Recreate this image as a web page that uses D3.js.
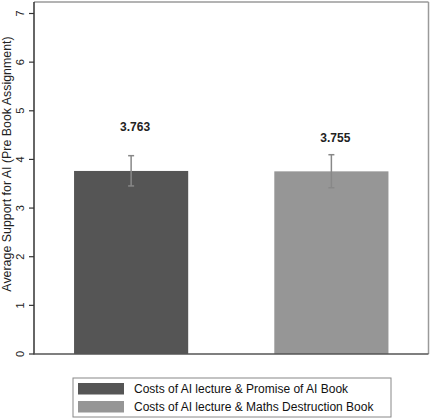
<!DOCTYPE html>
<html>
<head>
<meta charset="utf-8">
<script src="https://cdn.jsdelivr.net/npm/d3@7"></script>
<style>
  html, body { margin: 0; padding: 0; background: #fff; }
  svg { display: block; font-family: "Liberation Sans", Arial, sans-serif; }
</style>
</head>
<body>
<svg id="chart" width="431" height="418"></svg>
<script>
const categories = ["Costs of AI lecture & Promise of AI Book", "Costs of AI lecture & Maths Destruction Book"];
const means = [3.763, 3.755];
const ciLow = [3.455, 3.418];
const ciHigh = [4.077, 4.097];
const labels = ["3.763", "3.755"];
const yTicks = [0, 1, 2, 3, 4, 5, 6, 7];
const colors = ["#555555", "#969696"];

(function () {
const svg = d3.select("#chart");
const pLeft = 34, pRight = 428.5, pTop = 2, pBottom = 354;

const x = d3.scaleBand().domain(categories).range([pLeft, pRight]).paddingInner(0.43).paddingOuter(0.2);
const y = d3.scaleLinear().domain([0, 7]).range([pBottom, 13.5]);

// frame (top and right, light)
svg.append("line").attr("x1", pLeft).attr("x2", pRight).attr("y1", pTop).attr("y2", pTop)
  .attr("stroke", "#9a9a9a").attr("stroke-width", 1.5);
svg.append("line").attr("x1", pRight).attr("x2", pRight).attr("y1", pTop).attr("y2", pBottom)
  .attr("stroke", "#9a9a9a").attr("stroke-width", 1.5);

// bars
svg.selectAll("rect.bar").data(categories).enter().append("rect")
  .attr("class", "bar")
  .attr("x", d => x(d))
  .attr("width", x.bandwidth())
  .attr("y", (d, i) => y(means[i]))
  .attr("height", (d, i) => y(0) - y(means[i]))
  .attr("fill", (d, i) => colors[i]);

// error bars
const eb = svg.selectAll("g.eb").data(categories).enter().append("g").attr("class", "eb");
eb.append("line")
  .attr("x1", d => x(d) + x.bandwidth() / 2).attr("x2", d => x(d) + x.bandwidth() / 2)
  .attr("y1", (d, i) => y(ciLow[i])).attr("y2", (d, i) => y(ciHigh[i]))
  .attr("stroke", "#888888").attr("stroke-width", 1.5);
eb.append("line")
  .attr("x1", d => x(d) + x.bandwidth() / 2 - 3).attr("x2", d => x(d) + x.bandwidth() / 2 + 3)
  .attr("y1", (d, i) => y(ciHigh[i])).attr("y2", (d, i) => y(ciHigh[i]))
  .attr("stroke", "#888888").attr("stroke-width", 1.5);
eb.append("line")
  .attr("x1", d => x(d) + x.bandwidth() / 2 - 3).attr("x2", d => x(d) + x.bandwidth() / 2 + 3)
  .attr("y1", (d, i) => y(ciLow[i])).attr("y2", (d, i) => y(ciLow[i]))
  .attr("stroke", "#888888").attr("stroke-width", 1.5);

// value labels
const labelOffsets = [29, 17];
svg.selectAll("text.val").data(categories).enter().append("text")
  .attr("class", "val")
  .attr("x", d => x(d) + x.bandwidth() / 2 + 4)
  .attr("y", (d, i) => y(ciHigh[i]) - labelOffsets[i])
  .attr("dy", "0.35em")
  .attr("text-anchor", "middle")
  .attr("font-size", 12).attr("font-weight", "bold").attr("fill", "#222")
  .text((d, i) => labels[i]);

// y axis
svg.append("line").attr("x1", pLeft).attr("x2", pLeft).attr("y1", pTop).attr("y2", pBottom + 0.5)
  .attr("stroke", "#333").attr("stroke-width", 1.5);
svg.append("line").attr("x1", pLeft).attr("x2", pRight).attr("y1", pBottom).attr("y2", pBottom)
  .attr("stroke", "#555").attr("stroke-width", 1.5);
svg.selectAll("line.tick").data(yTicks).enter().append("line")
  .attr("class", "tick")
  .attr("x1", 29).attr("x2", pLeft).attr("y1", d => y(d)).attr("y2", d => y(d))
  .attr("stroke", "#333").attr("stroke-width", 1.2);
svg.selectAll("text.tick").data(yTicks).enter().append("text")
  .attr("class", "tick")
  .attr("transform", d => `translate(20,${y(d)}) rotate(-90)`)
  .attr("text-anchor", "middle").attr("dy", "0.35em")
  .attr("font-size", 11).attr("fill", "#222")
  .text(d => d);

svg.append("text")
  .attr("transform", "translate(7,164) rotate(-90)")
  .attr("text-anchor", "middle").attr("dy", "0.35em")
  .attr("font-size", 12.4).attr("fill", "#222")
  .text("Average Support for AI (Pre Book Assignment)");

// legend
const lg = svg.append("g");
lg.append("rect").attr("x", 73).attr("y", 378).attr("width", 318).attr("height", 39)
  .attr("fill", "#fff").attr("stroke", "#888").attr("stroke-width", 1);
categories.forEach((c, i) => {
  lg.append("rect").attr("x", 78).attr("y", 383 + i * 18).attr("width", 46).attr("height", 11.5)
    .attr("fill", colors[i]);
  lg.append("text").attr("x", 134).attr("y", 388.5 + i * 18).attr("dy", "0.35em")
    .attr("font-size", 12).attr("fill", "#111").text(c);
});
})();
</script>
</body>
</html>
